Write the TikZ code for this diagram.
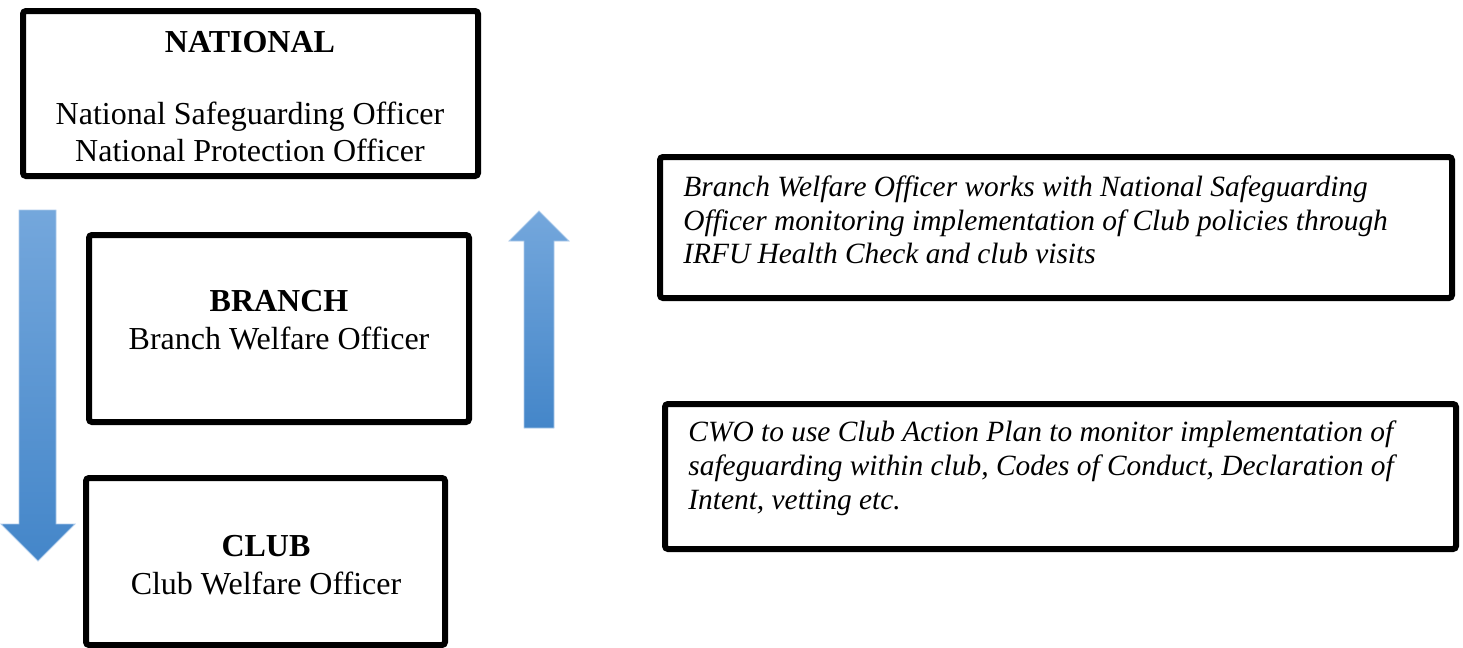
\documentclass[tikz,border=0pt]{standalone}
\usepackage{fontspec}
\setmainfont{Liberation Serif}
\usetikzlibrary{positioning}
\definecolor{arrowtop}{RGB}{116,167,220}
\definecolor{arrowbot}{RGB}{68,134,201}

\begin{document}
\begin{tikzpicture}[x=0.5pt,y=-0.5pt,
    box/.style={draw, line width=3pt, rounded corners=1.5pt, anchor=north west,
      inner sep=0pt, outer sep=0pt},
    level/.style={align=center, font=\fontsize{16}{18.8}\selectfont},
    note/.style={align=left, anchor=west, inner sep=0pt, font=\fontsize{14.7}{16.9}\selectfont\itshape},
    blockarrow/.style={top color=arrowtop, bottom color=arrowbot, draw=arrowtop!60!white, line width=0.4pt}]
  \useasboundingbox (0,0) rectangle (1463,648);

  % level boxes
  \node[box, minimum width=227.5pt, minimum height=82.5pt] (national) at (23,11) {};
  \node[box, minimum width=190pt, minimum height=93.5pt] (branch) at (89,235) {};
  \node[box, minimum width=179.5pt, minimum height=83.5pt] (club) at (86,478) {};

  \node[level, font=\fontsize{16}{18.8}\selectfont\bfseries] (nattitle) at (250,42) {NATIONAL};
  \node[level] (natnames) at (250,132) {National Safeguarding Officer\\National Protection Officer};
  \node[level] (branchtxt) at (279,320) {\textbf{BRANCH}\\Branch Welfare Officer};
  \node[level] (clubtxt) at (266,565) {\textbf{CLUB}\\Club Welfare Officer};

  % monitoring notes
  \node[box, minimum width=396pt, minimum height=70.5pt] (upnote) at (660,157) {};
  \node[box, minimum width=395.5pt, minimum height=72.5pt] (clubnote) at (665,404) {};
  \node[note] (uptxt) at (683,220) {Branch Welfare Officer works with National Safeguarding\\
    Officer monitoring implementation of Club policies through\\
    IRFU Health Check and club visits};
  \node[note] (clubtxt2) at (688,468) {CWO to use Club Action Plan to monitor implementation of\\
    safeguarding within club, Codes of Conduct, Declaration of\\
    Intent, vetting etc.};

  % down and up arrows
  \path[blockarrow] (19,210) -- (56,210) -- (56,524) -- (75,524) -- (38,561)
    -- (1,524) -- (19,524) -- cycle;
  \path[blockarrow] (539,211) -- (569,241) -- (554,241) -- (554,428) -- (524,428)
    -- (524,241) -- (509,241) -- cycle;
\end{tikzpicture}
\end{document}
